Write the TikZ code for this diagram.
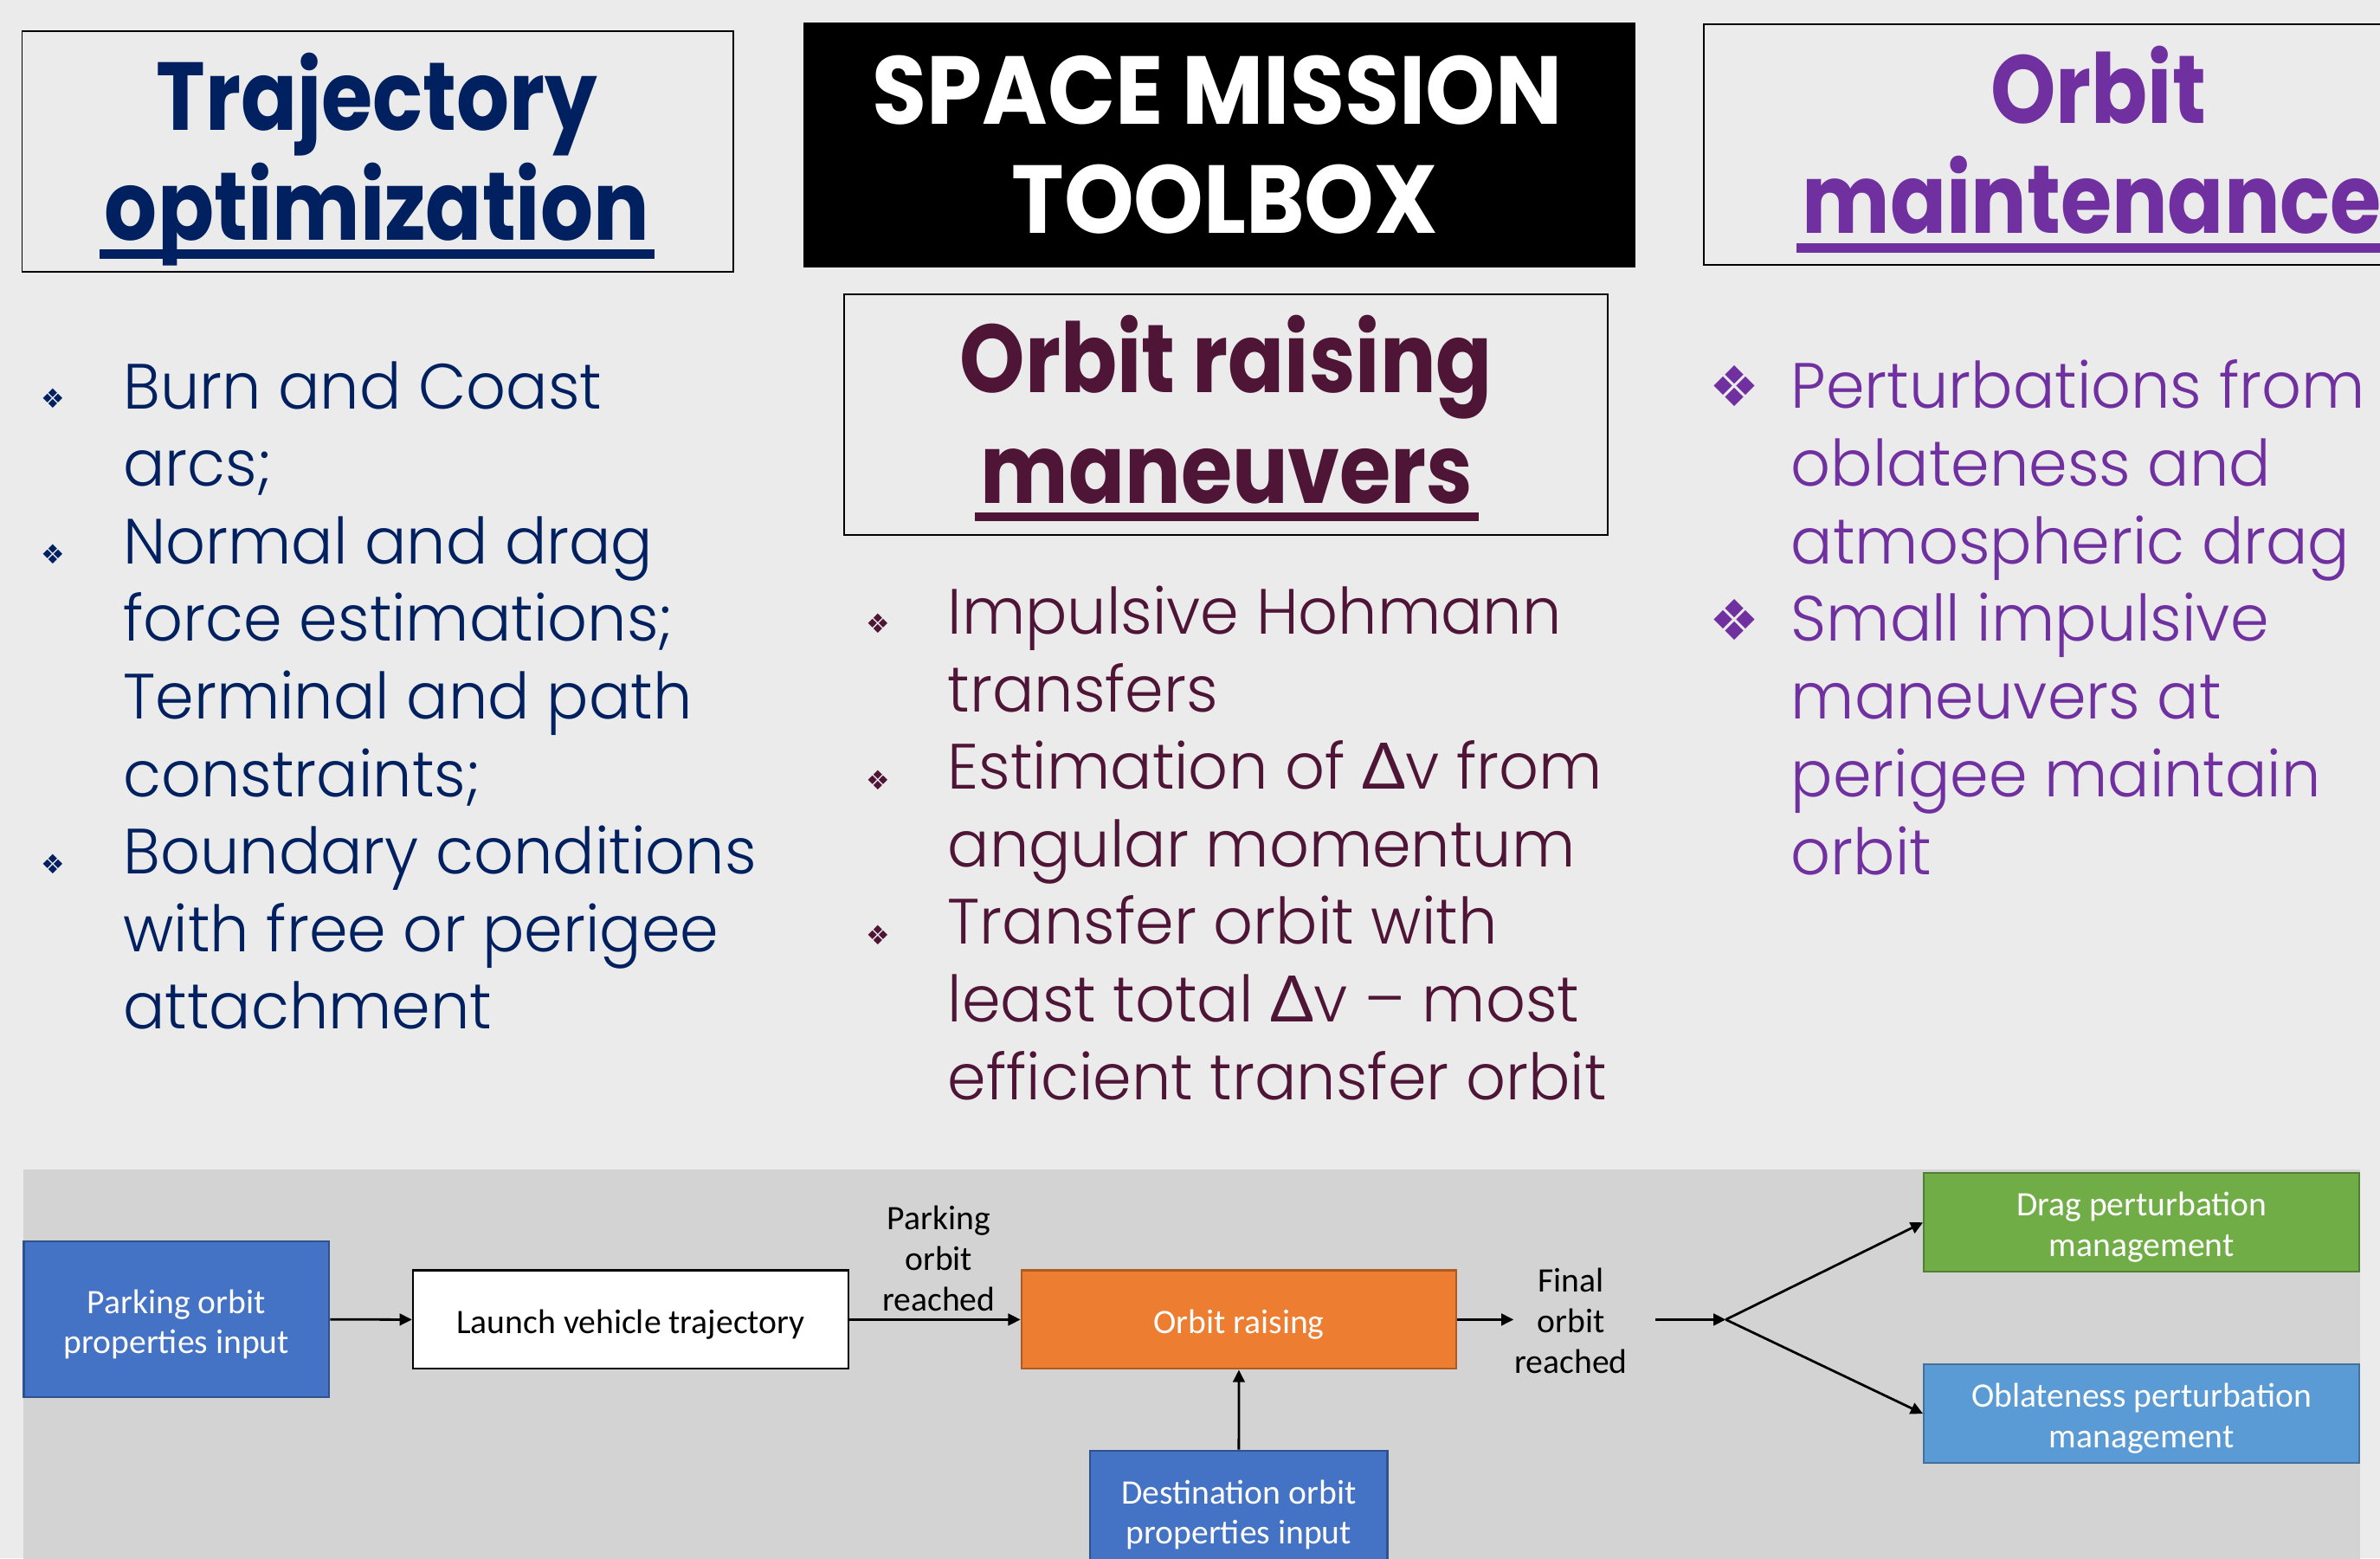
\documentclass[tikz,border=0pt]{standalone}
\usepackage{fontspec}
\setmainfont{Poppins Light}[FakeStretch=0.97]
\newfontfamily\ttlfont{Poppins}[FakeStretch=0.86]
\newfontfamily\capsfont{Poppins}[FakeStretch=0.92]
\newfontfamily\carl{Carlito}
\newfontfamily\djv{DejaVu Sans}
\newfontfamily\lato{Lato}
\usetikzlibrary{arrows.meta,calc}
\definecolor{bgc}{HTML}{EBEBEB}
\definecolor{panel}{HTML}{D3D3D3}
\definecolor{navy}{HTML}{002060}
\definecolor{berry}{HTML}{4F1537}
\definecolor{purp}{HTML}{7030A0}
\definecolor{bluebox}{HTML}{4472C4}
\definecolor{blueedge}{HTML}{2F528F}
\definecolor{orng}{HTML}{ED7D31}
\definecolor{orngedge}{HTML}{AE5A21}
\definecolor{grn}{HTML}{70AD47}
\definecolor{grnedge}{HTML}{507E32}
\definecolor{lblue}{HTML}{5B9BD5}
\definecolor{lblueedge}{HTML}{41719C}
\newcommand\fst{\rule{0pt}{6.3pt}}
\tikzset{
  hbox/.style={draw=black, line width=0.3pt, inner sep=0pt},
  ttl/.style={inner sep=0pt, anchor=base, font=\ttlfont\fontsize{18.1pt}{20.6pt}\selectfont\bfseries},
  btxt/.style={inner sep=0pt, anchor=base west, font=\fontsize{12pt}{14.5pt}\selectfont},
  fbox/.style={draw, line width=0.35pt, inner sep=0pt, align=center, font=\carl\fontsize{6.43pt}{7.57pt}\selectfont},
  lbl/.style={inner sep=0pt, align=center, font=\carl\fontsize{6.43pt}{7.57pt}\selectfont},
  arr/.style={-{Triangle[length=2.3pt,width=2.2pt]}, line width=0.45pt},
  bul/.style={inner sep=0pt, font=\djv\fontsize{#1}{#1}\selectfont},
}
\begin{document}
\begin{tikzpicture}[x=0.1mm,y=-0.1mm]
\useasboundingbox (0,0) rectangle (1568,1026.7);
\clip (0,0) rectangle (1568,1026.7);
\fill[bgc] (0,0) rectangle (1568,1026.7);
\fill[panel] (15.3,770.6) rectangle (1555,1040);

% header boxes
\node[hbox, minimum width=46.85mm, minimum height=15.88mm] (tbox) at (248.8,99.7) {};
\node[hbox, fill=black, minimum width=54.75mm, minimum height=16.01mm] (sbox) at (803.45,95.45) {};
\node[hbox, minimum width=50.27mm, minimum height=15.84mm] (rbox) at (807.65,273.1) {};
\node[hbox, minimum width=51.97mm, minimum height=15.85mm] (mbox) at (1382.15,95.25) {};

% titles
\node[ttl, text=navy] (t1) at (248.5,85.6) {Trajectory};
\node[ttl, text=navy] (t2) at (248.4,158.2) {optimization};
\fill[navy] ($(t2.base west)+(-2.5,6.3)$) rectangle ($(t2.base east)+(2.5,12.3)$);

\node[ttl, text=white, font=\capsfont\fontsize{18.1pt}{20.6pt}\selectfont\bfseries] (s1) at (802,81.6) {SPACE MISSION};
\node[ttl, text=white, font=\capsfont\fontsize{18.1pt}{20.6pt}\selectfont\bfseries] (s2) at (806.9,153.7) {TOOLBOX};

\node[ttl, text=berry] (r1) at (807.8,258.5) {Orbit raising};
\node[ttl, text=berry] (r2) at (808.3,331.8) {maneuvers};
\fill[berry] ($(r2.base west)+(-3,5.9)$) rectangle ($(r2.base east)+(3,11.8)$);

\node[ttl, text=purp] (m1) at (1382.5,81.3) {Orbit};
\node[ttl, text=purp, anchor=base west] (m2) at (1186.6,153.6) {maintenance};
\fill[purp] ($(m2.base west)+(-3,6.4)$) rectangle ($(m2.base east)+(3,12.8)$);

% left bullets
\foreach \y in {262.5,365.4,569.2} \node[bul=5pt, text=navy] at (35,\y) {❖};
\foreach \t [count=\i from 0] in {Burn and Coast,arcs;,Normal and drag,force estimations;,Terminal and path,constraints;,Boundary conditions,with free or perigee,attachment}
  \node[btxt, text=navy] (L\i) at (80.5,269.3+51.1*\i) {\t};

% center bullets
\foreach \y in {410.7,514,616} \node[bul=5pt, text=berry] at (578.4,\y) {❖};
\foreach \t [count=\i from 0] in {Impulsive Hohmann,transfers,Estimation of {\lato Δ}v from,angular momentum,Transfer orbit with,least total {\lato Δ}v – most,efficient transfer orbit}
  \node[btxt, text=berry] (C\i) at (623.7,417.9+51.08*\i) {\t};

% right bullets
\foreach \y in {254.5,408.3} \node[bul=10.5pt, text=purp] at (1143,\y) {❖};
\foreach \t [count=\i from 0] in {Perturbations from,oblateness and,atmospheric drag,Small impulsive,maneuvers at,perigee maintain,orbit}
  \node[btxt, text=purp] (R\i) at (1179.3,269+51.2*\i) {\t};

% flowchart
\node[fbox, fill=bluebox, draw=blueedge, text=white, minimum width=20.12mm, minimum height=10.26mm] (park) at (116.3,869.4) {\fst Parking orbit\\properties input};
\node[fbox, fill=white, draw=black, minimum width=28.7mm, minimum height=6.5mm] (launch) at (415.5,869.5) {\fst Launch vehicle trajectory};
\node[fbox, fill=orng, draw=orngedge, text=white, minimum width=28.66mm, minimum height=6.5mm] (orbit) at (816.2,869.5) {\fst Orbit raising};
\node[fbox, fill=bluebox, draw=blueedge, text=white, minimum width=19.57mm, minimum height=7.82mm] (dest) at (816.15,994.9) {\fst Destination orbit\\properties input};
\node[fbox, fill=grn, draw=grnedge, text=white, minimum width=28.7mm, minimum height=6.5mm] (drag) at (1411,805.5) {\fst Drag perturbation\\management};
\node[fbox, fill=lblue, draw=lblueedge, text=white, minimum width=28.7mm, minimum height=6.5mm] (obl) at (1411,931.5) {\fst Oblateness perturbation\\management};

\node[lbl, anchor=south] (preach) at (618.5,864.5) {Parking\\orbit\\reached};
\node[lbl, anchor=south] (final) at (1035,905.6) {Final\\orbit\\reached};
\coordinate (split) at (1137,869.5);

\draw[arr] (park.east) -- (launch.west);
\draw[arr] (launch.east) -- (orbit.west);
\draw[arr] (orbit.east) -- (orbit.east -| final.west);
\draw[arr] ([xshift=5.1pt]final.east |- orbit.east) -- (split);
\draw[arr] (split) -- (drag.west);
\draw[arr] (split) -- (obl.west);
\draw[arr] (dest.north) -- (orbit.south);
\end{tikzpicture}
\end{document}
